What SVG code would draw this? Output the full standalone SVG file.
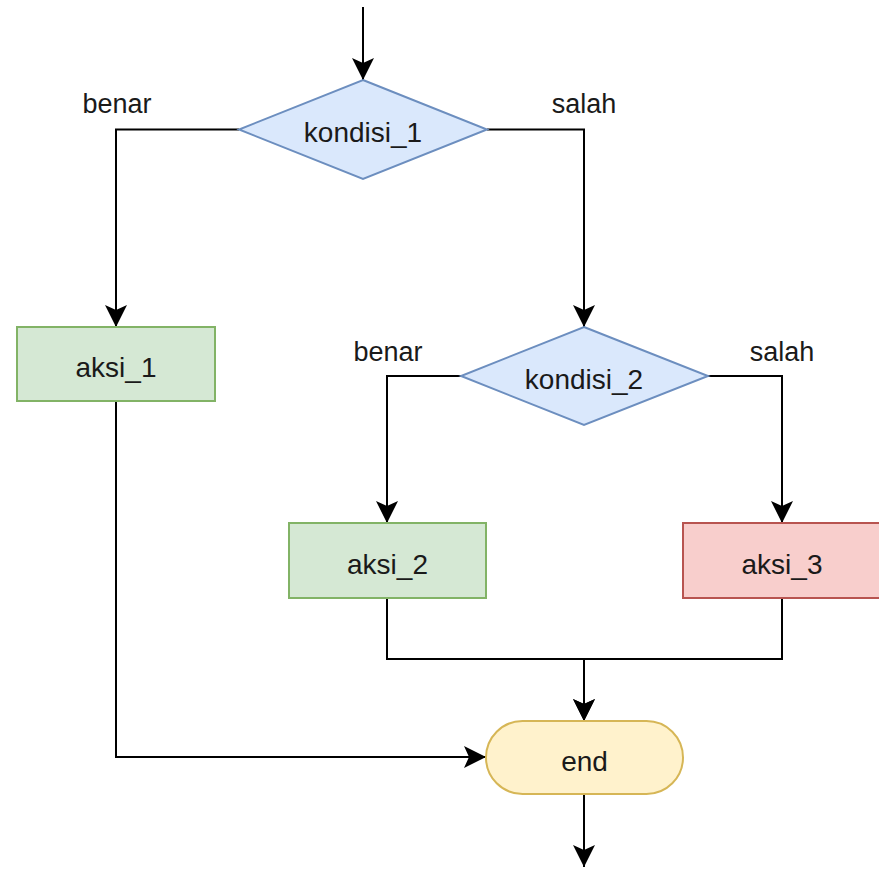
<svg xmlns="http://www.w3.org/2000/svg" width="879" height="869" viewBox="0 0 879 869">
  <style>
    text { font-family: "Liberation Sans", Arial, Helvetica, sans-serif; font-size: 27px; fill: #1a1a1a; text-anchor: middle; }
    .node text { font-size: 28px; }
    .edge { fill: none; stroke: #000; stroke-width: 2; marker-end: url(#arrow); }
    .decision { fill: #dae8fc; stroke: #6c8ebf; stroke-width: 2; }
    .ok { fill: #d5e8d4; stroke: #82b366; stroke-width: 2; }
    .fail { fill: #f8cecc; stroke: #b85450; stroke-width: 2; }
    .terminal { fill: #fff2cc; stroke: #d6b656; stroke-width: 2; }
  </style>
  <defs>
    <marker id="arrow" viewBox="0 0 22 22" refX="22" refY="11" markerWidth="22" markerHeight="22" markerUnits="userSpaceOnUse" orient="auto">
      <path d="M0,0 L22,11 L0,22 L5,11 Z" fill="#000"/>
    </marker>
  </defs>

  <rect width="879" height="869" fill="#fff"/>

  <!-- connectors and branch labels -->
  <g id="connectors">
    <path class="edge" d="M363,7 V80"/>
    <path class="edge" d="M239,129.5 H116 V327"/>
    <path class="edge" d="M487,129.5 H584 V327"/>
    <path class="edge" d="M461,376 H387 V523"/>
    <path class="edge" d="M708,376 H782 V523"/>
    <path class="edge" d="M387,598 V659 H584 V721"/>
    <path class="edge" d="M782,598 V659 H584 V721"/>
    <path class="edge" d="M116,401 V757 H486"/>
    <path class="edge" d="M584,794 V867"/>
    <text x="117" y="113">benar</text>
    <text x="584" y="113">salah</text>
    <text x="388" y="361">benar</text>
    <text x="782" y="361">salah</text>
  </g>

  <!-- nodes -->
  <g id="kondisi_1" class="node">
    <polygon class="decision" points="363,80 487,129.5 363,179 239,129.5"/>
    <text x="363" y="142">kondisi_1</text>
  </g>
  <g id="aksi_1" class="node">
    <rect class="ok" x="17" y="327" width="198" height="74"/>
    <text x="116" y="377">aksi_1</text>
  </g>
  <g id="kondisi_2" class="node">
    <polygon class="decision" points="584,327 708,376 584,425 461,376"/>
    <text x="584" y="389">kondisi_2</text>
  </g>
  <g id="aksi_2" class="node">
    <rect class="ok" x="289" y="523" width="197" height="75"/>
    <text x="387.5" y="573.5">aksi_2</text>
  </g>
  <g id="aksi_3" class="node">
    <rect class="fail" x="683" y="523" width="198" height="75"/>
    <text x="782" y="573.5">aksi_3</text>
  </g>
  <g id="end" class="node">
    <rect class="terminal" x="486" y="721" width="197" height="73" rx="36.5" ry="36.5"/>
    <text x="584.5" y="770.5">end</text>
  </g>
</svg>
